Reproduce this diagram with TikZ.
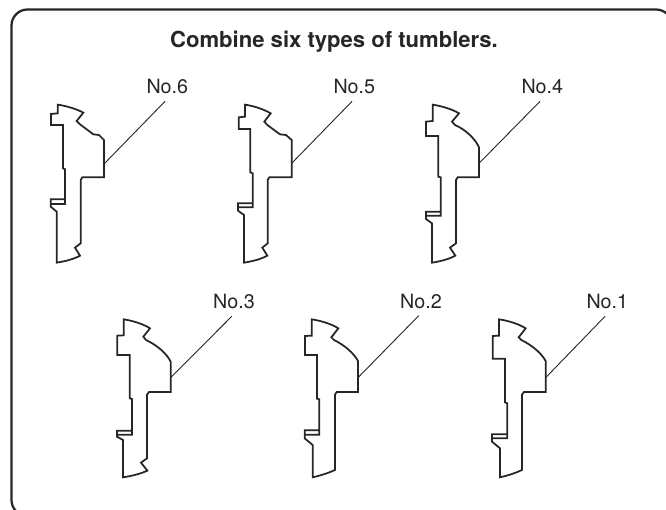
\documentclass[tikz,border=0pt]{standalone}
\usepackage{fontspec}
\setmainfont{TeX Gyre Heros}
\tikzset{
    tumbler/.style={line width=1.25pt,line join=miter,black!85},
    leader/.style={line width=0.65pt,black!85},
    numlabel/.style={inner sep=5pt,font=\fontsize{14}{14}\selectfont,text=black!85},
}
\begin{document}
\begin{tikzpicture}[x=0.025cm,y=-0.025cm]
        \useasboundingbox (0,0) rectangle (666,510);
        \clip (0,0) rectangle (666,510);
        \draw[line width=1.6pt,rounded corners=0.4cm,black!85] (11.5,9.5) rectangle (672,516);
        \node[font=\bfseries\fontsize{15.7}{16}\selectfont,text=black!85] (title) at (334,42) {Combine six types of tumblers.};
        \node[numlabel] (no6) at (167.3,86.7) {No.6};
        \node[numlabel] (no5) at (354.3,86.7) {No.5};
        \node[numlabel] (no4) at (542.3,86.7) {No.4};
        \node[numlabel] (no3) at (234,301.7) {No.3};
        \node[numlabel] (no2) at (421,301) {No.2};
        \node[numlabel] (no1) at (607.3,301.7) {No.1};
        % top row
        \draw[tumbler,shift={(30,70)},scale=1/3] (83,104) .. controls (110,108) and (140,117) .. (160,128) -- (140,153) -- (150,163) -- (190,193) -- (207,195) -- (222,210) -- (222,282) coordinate (t6) -- (222,322) -- (157,322) -- (152,330) -- (152,520) -- (135,533) -- (150,557) .. controls (130,568) and (105,574) .. (80,578) -- (80,425) -- (62,410) -- (62,388) -- (105,388) -- (105,298) -- (99,295) -- (99,165) -- (63,165) -- (63,132) -- (83,130) -- cycle (105,388) -- (105,402) -- (64,402);
        \draw[tumbler,shift={(225,70)},scale=1/3] (60,104) .. controls (87,108) and (117,118) .. (137,130) -- (118,155) -- (127,165) -- (165,193) -- (183,195) -- (200,210) -- (200,280) coordinate (t5) -- (200,322) -- (133,322) -- (128,330) -- (128,520) -- (112,533) -- (127,557) .. controls (107,568) and (82,574) .. (57,578) -- (57,435) -- (39,422) -- (39,400) -- (83,400) -- (83,310) -- (76,307) -- (76,177) -- (41,177) -- (41,142) -- (60,140) -- cycle (83,400) -- (83,412) -- (41,412);
        \draw[tumbler,shift={(410,70)},scale=1/3] (68,104) .. controls (95,108) and (127,118) .. (147,130) -- (126,155) -- (135,165) .. controls (165,178) and (195,205) .. (207,232) -- (207,280) coordinate (t4) -- (207,322) -- (143,322) -- (138,330) -- (138,520) -- (120,533) -- (136,557) .. controls (116,568) and (91,574) .. (66,578) -- (66,460) -- (48,447) -- (48,425) -- (92,425) -- (92,322) -- (85,320) -- (85,198) -- (48,198) -- (48,155) -- (68,153) -- cycle (92,425) -- (92,437) -- (50,437);
        % bottom row
        \draw[tumbler,shift={(100,290)},scale=1/3] (71,88) .. controls (98,92) and (130,102) .. (150,115) -- (130,140) -- (138,150) .. controls (170,165) and (200,190) .. (212,215) -- (212,263) coordinate (t3) -- (212,306) -- (147,306) -- (141,314) -- (141,505) -- (123,518) -- (142,542) .. controls (120,552) and (95,558) .. (69,562) -- (69,450) -- (51,440) -- (51,422) -- (96,422) -- (96,327) -- (89,325) -- (89,195) -- (52,195) -- (52,137) -- (71,136) -- cycle (96,422) -- (96,434) -- (53,434);
        \draw[tumbler,shift={(285,290)},scale=1/3] (80,88) .. controls (107,92) and (140,102) .. (160,115) -- (139,142) -- (147,150) .. controls (178,165) and (207,190) .. (219,213) -- (219,263) coordinate (t2) -- (219,306) -- (155,306) -- (150,314) -- (150,540) .. controls (128,550) and (105,557) .. (83,562) -- (83,465) -- (59,445) -- (59,421) -- (103,421) -- (103,328) -- (96,326) -- (96,195) -- (60,195) -- (60,138) -- (80,137) -- cycle (103,421) -- (103,434) -- (60,434);
        \draw[tumbler,shift={(475,290)},scale=1/3] (72,88) .. controls (99,92) and (132,102) .. (152,115) -- (131,142) -- (139,150) .. controls (170,165) and (200,190) .. (212,213) -- (212,263) coordinate (t1) -- (212,306) -- (147,306) -- (141,314) -- (141,540) .. controls (120,550) and (97,557) .. (75,562) -- (75,475) -- (51,455) -- (51,433) -- (97,433) -- (97,340) -- (90,337) -- (90,206) -- (53,206) -- (53,138) -- (72,137) -- cycle (97,433) -- (97,445) -- (52,445);
        % leaders
        \foreach \n in {1,...,6} {
            \draw[leader] (t\n) -- ([xshift=-1.6pt]no\n.south);
        }
    \end{tikzpicture}
\end{document}
